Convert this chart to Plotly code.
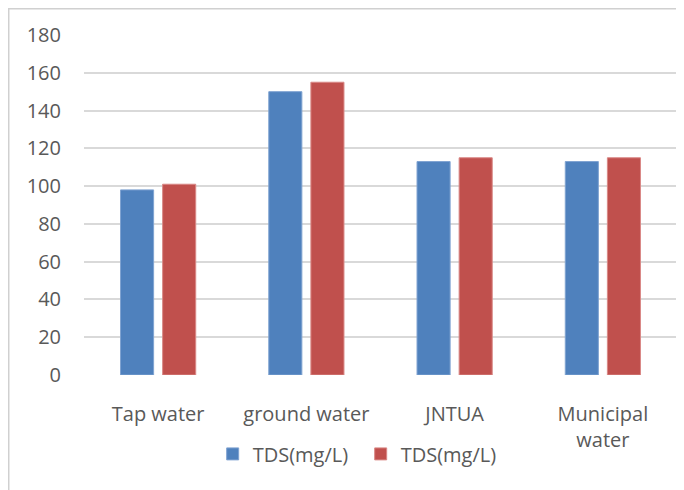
import plotly.graph_objects as go

categories = ["Tap water", "ground water", "JNTUA", "Municipal<br>water"]
series_a = [98, 150, 113, 113]
series_b = [101, 155, 115, 115]
series_names = ["TDS(mg/L)", "TDS(mg/L)"]
y_ticks = [0, 20, 40, 60, 80, 100, 120, 140, 160, 180]

FONT = "Open Sans"
TXT = "#595959"

fig = go.Figure()
fig.add_trace(go.Bar(x=categories, y=series_a, name=series_names[0],
                     marker=dict(color="#4F81BD", line=dict(color="#7FA3D1", width=1))))
fig.add_trace(go.Bar(x=categories, y=series_b, name=series_names[1],
                     marker=dict(color="#C0504D", line=dict(color="#D98886", width=1))))

# page body has an 8px margin, so offsets are compensated here
fig.update_layout(
    width=684, height=490,
    margin=dict(l=76, r=15, t=27, b=123, autoexpand=False),
    paper_bgcolor="white", plot_bgcolor="white",
    barmode="group", bargap=0.432, bargroupgap=0.214,
    font=dict(family=FONT, size=20, color=TXT),
    showlegend=True,
    legend=dict(orientation="h", x=0.217, xanchor="left", y=-0.232, yanchor="middle",
                font=dict(family=FONT, size=20, color=TXT), bgcolor="rgba(0,0,0,0)",
                itemwidth=30, tracegroupgap=0, entrywidth=103),
    xaxis=dict(showgrid=False, showline=False, ticks="", ticklabelstandoff=25,
               tickfont=dict(family=FONT, size=20, color=TXT)),
    yaxis=dict(range=[0, 180], tickvals=y_ticks, showgrid=True, gridcolor="#d9d9d9",
               gridwidth=1.5, zeroline=False, showline=False, ticks="",
               ticklabelstandoff=22, tickfont=dict(family=FONT, size=20, color=TXT)),
    shapes=[dict(type="rect", xref="paper", yref="paper",
                 x0=-0.1269, x1=1.2, y0=-0.6, y1=1.0772,
                 line=dict(color="#d0d0d0", width=1.5), layer="below")],
)

fig.write_html("out.html")
